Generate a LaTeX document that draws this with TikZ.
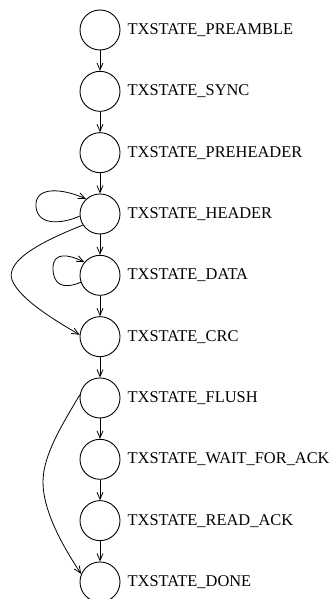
\documentclass[tikz,border=0pt]{standalone}
\usepackage{fontspec}
\setmainfont{Liberation Serif}
\usetikzlibrary{arrows.meta}
\begin{document}
\begin{tikzpicture}[x=1pt,y=-1pt,
  state/.style={circle,draw,line width=0.9pt,minimum size=40pt,inner sep=0pt},
  lbl/.style={anchor=west,inner sep=0pt,font=\fontsize{16.4}{18}\selectfont},
  edge/.style={draw,line width=0.8pt,-{Straight Barb[length=7pt,width=6pt]}}]
\useasboundingbox (0,0) rectangle (334,599);
% state column
\foreach \n/\t [count=\i from 0] in {pre/PREAMBLE,syn/SYNC,phd/PREHEADER,hdr/HEADER,dat/DATA,crc/CRC,fls/FLUSH,wfa/WAIT\_FOR\_ACK,rak/READ\_ACK,don/DONE}{
  \node[state] (\n) at (100,{30+61.33*\i}) {};
  \node[lbl] (\n-l) at (127.5,{30+61.33*\i}) {TXSTATE\_\t};
}
% straight transitions
\foreach \a/\b in {pre/syn,syn/phd,phd/hdr,hdr/dat,dat/crc,crc/fls,fls/wfa,wfa/rak,rak/don}
  \path[edge] (\a) -- (\b);
% self loops
\path[edge] (hdr.186) .. controls (62,224) and (38,226) .. (36,207)
  .. controls (34,186) and (62,188) .. (hdr.133);
\path[edge] (dat.200) .. controls (62,290) and (53,284) .. (53,268)
  .. controls (53,252) and (68,254) .. (dat.140);
% skip transitions
\path[edge] (hdr.213) .. controls (35,244) and (6,262) .. (12,280)
  .. controls (20,300) and (58,322) .. (crc.175);
\path[edge] (fls.171) .. controls (62,425) and (43,455) .. (43,482)
  .. controls (43,512) and (64,548) .. (don.157);
\end{tikzpicture}
\end{document}
